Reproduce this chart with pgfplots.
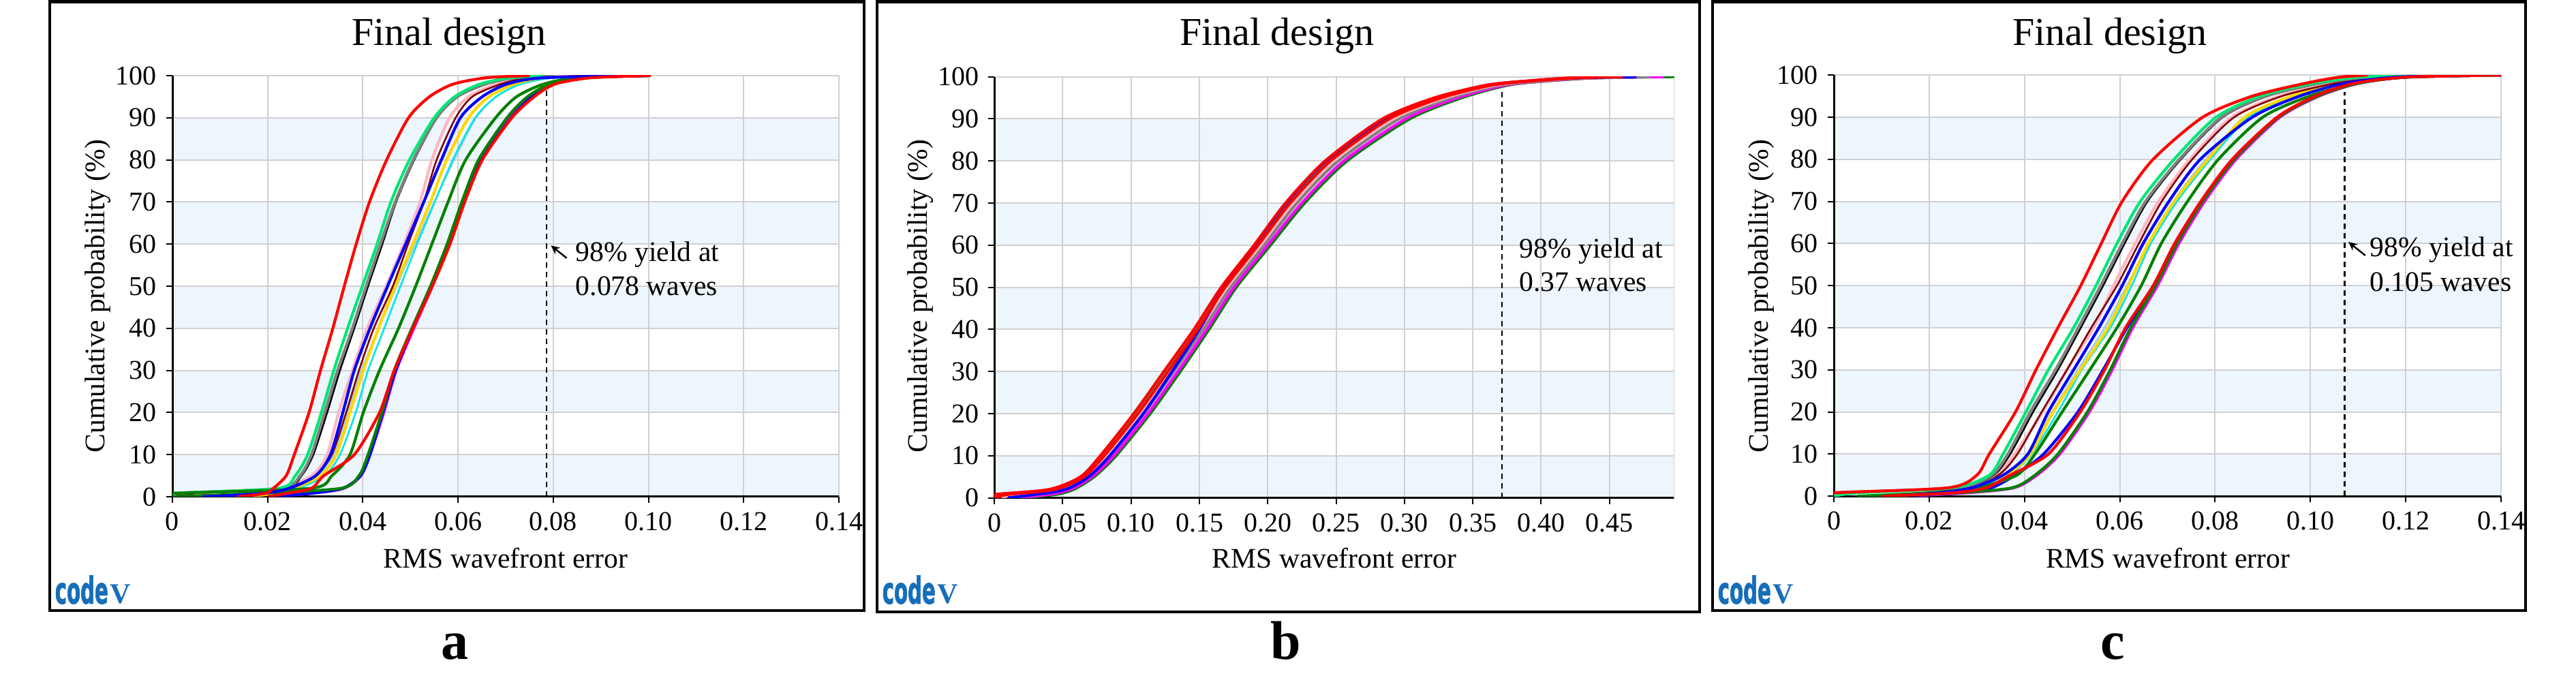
\documentclass[border=0pt]{standalone}
\usepackage{fontspec}
\setmainfont{Liberation Serif}
\newfontfamily\logofont{DejaVu Sans}[FakeBold=2]
\usepackage{graphicx}
\usepackage{pgfplots}
\pgfplotsset{compat=1.18}
\usepackage{pgfplotstable}
\usetikzlibrary{arrows.meta}

\definecolor{band}{RGB}{238,246,253}
\definecolor{gridgray}{RGB}{208,208,212}
\definecolor{cred}{RGB}{255,0,0}
\definecolor{csgreen}{RGB}{0,230,118}
\definecolor{cgray}{RGB}{128,128,128}
\definecolor{cpink}{RGB}{255,182,193}
\definecolor{cmaroon}{RGB}{128,0,0}
\definecolor{cblue}{RGB}{0,0,255}
\definecolor{clblue}{RGB}{160,205,235}
\definecolor{cyellow}{RGB}{255,215,0}
\definecolor{ccyan}{RGB}{0,230,230}
\definecolor{cgreen}{RGB}{0,128,0}
\definecolor{cmagenta}{RGB}{255,0,255}
\definecolor{logoblue}{RGB}{22,110,185}

% panel a: x (RMS wavefront error) of each curve at cumulative probability p
\pgfplotstableread{
p     red1   sgreen gray   black  pink   maroon blue   lblue  yellow cyan   green1 green2 magenta red2   blue2
0     0.0136 0.0    0.0    0.0    0.0    0.0    0.0063 0.0100 0.0150 0.0150 0.0    0.0    0.0200 0.0200 0.0200
0.8   0.0195 0.0    0.0    0.0    0.0    0.0050 0.0190 0.0210 0.0220 0.0225 0.0    0.0180 0.0290 0.0240 0.0290
2     0.0212 0.0222 0.0228 0.0232 0.0220 0.0240 0.0245 0.0260 0.0255 0.0265 0.0290 0.0354 0.0360 0.0292 0.0358
5     0.0239 0.0258 0.0268 0.0271 0.0292 0.0300 0.0301 0.0305 0.0311 0.0320 0.0335 0.0392 0.0396 0.0318 0.0395
10    0.0256 0.0284 0.0292 0.0296 0.0325 0.0335 0.0332 0.0339 0.0344 0.0352 0.0373 0.0411 0.0415 0.0382 0.0415
20    0.0287 0.0313 0.0320 0.0325 0.0349 0.0365 0.0358 0.0368 0.0373 0.0385 0.0401 0.0440 0.0444 0.0435 0.0442
30    0.0311 0.0339 0.0347 0.0352 0.0378 0.0392 0.0382 0.0397 0.0401 0.0411 0.0435 0.0466 0.0470 0.0466 0.0469
40    0.0337 0.0368 0.0378 0.0382 0.0409 0.0423 0.0415 0.0433 0.0433 0.0445 0.0475 0.0503 0.0507 0.0505 0.0505
50    0.0361 0.0399 0.0407 0.0411 0.0449 0.0463 0.0452 0.0471 0.0468 0.0479 0.0511 0.0542 0.0546 0.0546 0.0545
60    0.0386 0.0430 0.0437 0.0441 0.0486 0.0495 0.0490 0.0510 0.0505 0.0514 0.0545 0.0577 0.0581 0.0583 0.0582
70    0.0414 0.0459 0.0468 0.0470 0.0520 0.0528 0.0528 0.0550 0.0542 0.0551 0.0579 0.0608 0.0612 0.0614 0.0613
80    0.0450 0.0498 0.0506 0.0508 0.0545 0.0555 0.0565 0.0592 0.0576 0.0589 0.0616 0.0643 0.0647 0.0651 0.0649
90    0.0496 0.0550 0.0555 0.0556 0.0582 0.0595 0.0605 0.0638 0.0622 0.0636 0.0679 0.0703 0.0706 0.0713 0.0712
95    0.0540 0.0593 0.0598 0.0600 0.0622 0.0630 0.0651 0.0680 0.0665 0.0680 0.0723 0.0746 0.0750 0.0760 0.0755
98    0.0590 0.0646 0.0656 0.0660 0.0680 0.0690 0.0703 0.0730 0.0718 0.0732 0.0780 0.0794 0.0798 0.0804 0.0800
99.5  0.0660 0.0710 0.0720 0.0720 0.0740 0.0750 0.0780 0.0800 0.0780 0.0800 0.0850 0.0870 0.0870 0.0880 0.0870
100   0.0750 0.0780 0.0800 0.0800 0.0850 0.0880 0.1000 0.0900 0.0900 0.0900 0.0980 0.1000 0.1000 0.1005 0.1000
}\tabA

% panel b
\pgfplotstableread{
p     red1   sgreen red2   pink   gray   blue   yellow magenta green
0     0.0    0.0    0.0    0.005  0.010  0.010  0.010  0.015  0.020
0.8   0.0    0.005  0.010  0.015  0.025  0.030  0.030  0.040  0.045
2     0.040  0.043  0.0445 0.047  0.051  0.052  0.050  0.0555 0.058
5     0.063  0.0645 0.0655 0.067  0.069  0.069  0.0685 0.0715 0.073
10    0.0775 0.0792 0.0804 0.0821 0.0844 0.0844 0.0838 0.0873 0.089
20    0.102  0.1038 0.105  0.1068 0.1092 0.109  0.1086 0.1122 0.114
30    0.124  0.1258 0.127  0.1288 0.1312 0.130  0.1306 0.1342 0.136
40    0.146  0.1477 0.1488 0.1504 0.1526 0.150  0.1515 0.1553 0.157
50    0.166  0.1677 0.1688 0.1704 0.1726 0.168  0.1715 0.1753 0.177
60    0.190  0.1918 0.193  0.1948 0.1972 0.1905 0.196  0.200  0.202
70    0.213  0.2151 0.2165 0.2186 0.2214 0.2135 0.220  0.2249 0.227
80    0.242  0.2444 0.246  0.2484 0.2516 0.2425 0.250  0.2556 0.258
90    0.284  0.287  0.289  0.292  0.296  0.285  0.294  0.301  0.304
95    0.322  0.325  0.327  0.330  0.334  0.323  0.332  0.339  0.342
98    0.360  0.3624 0.364  0.3664 0.3696 0.3608 0.368  0.3736 0.376
99    0.390  0.3923 0.394  0.396  0.399  0.391  0.3975 0.4028 0.405
99.7  0.420  0.423  0.425  0.428  0.432  0.425  0.430  0.437  0.440
100   0.452  0.460  0.460  0.470  0.480  0.470  0.470  0.490  0.4975
}\tabB

% panel c
\pgfplotstableread{
p     red1   sgreen gray   black  pink   maroon blue   lblue  yellow cyan   green1 green2 magenta red2   blue2
0     0.0    0.0    0.0    0.0    0.0    0.0    0.0120 0.0100 0.0100 0.0100 0.0050 0.0100 0.0150 0.0100 0.0120
0.8   0.0    0.0050 0.0    0.0    0.0    0.0    0.0220 0.0210 0.0200 0.0210 0.0200 0.0260 0.0280 0.0250 0.0260
2     0.0240 0.0250 0.0260 0.0265 0.0270 0.0275 0.0290 0.0285 0.0280 0.0285 0.0300 0.0374 0.0378 0.0320 0.0330
5     0.0300 0.0326 0.0331 0.0335 0.0340 0.0345 0.0355 0.0360 0.0360 0.0365 0.0384 0.0422 0.0426 0.0370 0.0380
10    0.0326 0.0355 0.0365 0.0370 0.0379 0.0385 0.0407 0.0405 0.0412 0.0415 0.0422 0.0470 0.0474 0.0450 0.0440
20    0.0381 0.0403 0.0412 0.0418 0.0438 0.0436 0.0450 0.0458 0.0460 0.0470 0.0479 0.0532 0.0536 0.0517 0.0512
30    0.0424 0.0450 0.0465 0.0470 0.0489 0.0489 0.0503 0.0512 0.0517 0.0520 0.0537 0.0580 0.0584 0.0568 0.0565
40    0.0470 0.0503 0.0513 0.0518 0.0545 0.0540 0.0556 0.0568 0.0575 0.0580 0.0594 0.0623 0.0627 0.0612 0.0615
50    0.0518 0.0550 0.0560 0.0565 0.0587 0.0594 0.0605 0.0615 0.0618 0.0625 0.0645 0.0675 0.0679 0.0670 0.0672
60    0.0561 0.0594 0.0605 0.0610 0.0632 0.0640 0.0649 0.0660 0.0660 0.0665 0.0687 0.0720 0.0724 0.0715 0.0718
70    0.0605 0.0643 0.0654 0.0658 0.0681 0.0688 0.0703 0.0712 0.0714 0.0720 0.0742 0.0774 0.0778 0.0770 0.0772
80    0.0670 0.0714 0.0725 0.0728 0.0747 0.0752 0.0769 0.0780 0.0785 0.0790 0.0807 0.0840 0.0844 0.0836 0.0838
90    0.0774 0.0802 0.0813 0.0816 0.0834 0.0840 0.0878 0.0866 0.0862 0.0870 0.0900 0.0933 0.0936 0.0930 0.0931
95    0.0878 0.0895 0.0906 0.0910 0.0933 0.0940 0.0977 0.0965 0.0960 0.0965 0.0998 0.1015 0.1018 0.1010 0.1012
98    0.0987 0.1004 0.1015 0.1020 0.1042 0.1050 0.1070 0.1065 0.1060 0.1065 0.1097 0.1097 0.1100 0.1090 0.1092
99.5  0.1060 0.1100 0.1120 0.1120 0.1140 0.1150 0.1180 0.1170 0.1160 0.1170 0.1200 0.1200 0.1200 0.1200 0.1200
100   0.1120 0.1200 0.1250 0.1250 0.1300 0.1300 0.1350 0.1300 0.1300 0.1300 0.1400 0.1400 0.1400 0.1400 0.1400
}\tabC

\pgfplotsset{
  panel/.style={
    scale only axis, anchor=south west, height=154.5pt,
    ymin=0, ymax=100, ytick={0,10,20,30,40,50,60,70,80,90,100},
    yticklabels={0,10,20,30,40,50,60,70,80,90,100},
    axis lines*=left,
    axis line style={black, line width=0.75pt},
    tick align=outside, major tick length=2.25pt,
    tick style={black, line width=0.5pt},
    xmajorgrids, ymajorgrids,
    grid style={gridgray, line width=0.5pt},
    tick label style={font=\fontsize{10}{12}\selectfont},
    every axis plot/.append style={line width=1.05pt, line join=round, smooth, tension=0.45},
  },
  thin/.style={line width=0.65pt},
}

\newcommand{\curvesAC}[1]{%
  \addplot[clblue, thin] table[x=lblue, y=p]{#1};
  \addplot[ccyan, thin] table[x=cyan, y=p]{#1};
  \addplot[cyellow] table[x=yellow, y=p]{#1};
  \addplot[cpink] table[x=pink, y=p]{#1};
  \addplot[cmaroon, thin] table[x=maroon, y=p]{#1};
  \addplot[black, thin] table[x=black, y=p]{#1};
  \addplot[cgray] table[x=gray, y=p]{#1};
  \addplot[csgreen] table[x=sgreen, y=p]{#1};
  \addplot[cmagenta] table[x=magenta, y=p]{#1};
  \addplot[cblue] table[x=blue2, y=p]{#1};
  \addplot[cgreen] table[x=green2, y=p]{#1};
  \addplot[cgreen] table[x=green1, y=p]{#1};
  \addplot[cblue] table[x=blue, y=p]{#1};
  \addplot[cred] table[x=red2, y=p]{#1};
  \addplot[cred] table[x=red1, y=p]{#1};
}

\newcommand{\logo}{{\color{logoblue}\scalebox{0.54}[1]{\fontsize{13.5}{13.5}\logofont\bfseries code}\hspace{0.8pt}{\fontsize{10.5}{10.5}\selectfont\bfseries V}}}

\begin{document}
\begin{tikzpicture}
\useasboundingbox (0,0) rectangle (945pt,248.75pt);
\fill[white] (0,0) rectangle (945pt,248.75pt);

% background bands
\foreach \k in {0,2,4,6,8} {
  \fill[band] (63.25pt,{66.5pt+\k*15.45pt}) rectangle (307.75pt,{66.5pt+(\k+1)*15.45pt});
  \fill[band] (364.8pt,{66.1pt+\k*15.45pt}) rectangle (614.2pt,{66.1pt+(\k+1)*15.45pt});
  \fill[band] (672.75pt,{66.7pt+\k*15.45pt}) rectangle (917.5pt,{66.7pt+(\k+1)*15.45pt});
}

% ---------- panel a ----------
\begin{axis}[panel, at={(63.25pt,66.5pt)}, width=244.5pt,
  xmin=0, xmax=0.14, xtick={0,0.02,0.04,0.06,0.08,0.10,0.12,0.14},
  xticklabels={0,0.02,0.04,0.06,0.08,0.10,0.12,0.14}]
  \curvesAC{\tabA}
  \draw[black, line width=0.6pt, dash pattern=on 2pt off 1.5pt] (axis cs:0.0786,0) -- (axis cs:0.0786,96.5);
\end{axis}

% ---------- panel b ----------
\begin{axis}[panel, at={(364.8pt,66.1pt)}, width=249.4pt,
  xmin=0, xmax=0.4975, xtick={0,0.05,0.1,0.15,0.2,0.25,0.3,0.35,0.4,0.45},
  xticklabels={0,0.05,0.10,0.15,0.20,0.25,0.30,0.35,0.40,0.45}]
  \draw[gridgray, line width=0.5pt] (axis cs:0.4975,0) -- (axis cs:0.4975,100);
  \addplot[cgreen] table[x=green, y=p]{\tabB};
  \addplot[cmagenta] table[x=magenta, y=p]{\tabB};
  \addplot[cyellow] table[x=yellow, y=p]{\tabB};
  \addplot[cgray] table[x=gray, y=p]{\tabB};
  \addplot[cpink] table[x=pink, y=p]{\tabB};
  \addplot[csgreen] table[x=sgreen, y=p]{\tabB};
  \addplot[cblue] table[x=blue, y=p]{\tabB};
  \addplot[cred] table[x=red2, y=p]{\tabB};
  \addplot[cred] table[x=red1, y=p]{\tabB};
  \draw[black, line width=0.6pt, dash pattern=on 2pt off 1.5pt] (axis cs:0.3715,0) -- (axis cs:0.3715,96.8);
\end{axis}

% ---------- panel c ----------
\begin{axis}[panel, at={(672.75pt,66.7pt)}, width=244.75pt,
  xmin=0, xmax=0.14, xtick={0,0.02,0.04,0.06,0.08,0.10,0.12,0.14},
  xticklabels={0,0.02,0.04,0.06,0.08,0.10,0.12,0.14}]
  \curvesAC{\tabC}
  \draw[black, line width=0.6pt, dash pattern=on 2pt off 1.5pt] (axis cs:0.1072,0) -- (axis cs:0.1072,96);
\end{axis}

% frames
\draw[line width=1.2pt] (18.25pt,24.75pt) rectangle (317pt,248.15pt);
\draw[line width=1.2pt] (321.75pt,24.25pt) rectangle (623.5pt,248.15pt);
\draw[line width=1.2pt] (628.25pt,24.75pt) rectangle (926.5pt,248.15pt);

% titles
\foreach \x in {164.75pt,468.4pt,774pt}
  \node[anchor=base, inner sep=0, font=\fontsize{14.5}{16}\selectfont] at (\x,232.1pt) {Final design};
% x labels
\foreach \x in {185.5pt,489.5pt,795.3pt}
  \node[anchor=base, inner sep=0, font=\fontsize{10.4}{12}\selectfont] at (\x,40.3pt) {RMS wavefront error};
% y labels
\foreach \x in {38.25pt,340pt,648.5pt}
  \node[anchor=base, rotate=90, inner sep=0, font=\fontsize{10.4}{12}\selectfont] at (\x,140.1pt) {Cumulative probability (\%)};

% annotations
\begin{scope}[every node/.style={anchor=base west, inner sep=0, font=\fontsize{10.4}{12}\selectfont}]
  \node at (211pt,152.9pt) {98\% yield at};
  \node at (211pt,140.25pt) {0.078 waves};
  \node at (557.2pt,154.2pt) {98\% yield at};
  \node at (557.2pt,141.95pt) {0.37 waves};
  \node at (869.15pt,154.5pt) {98\% yield at};
  \node at (869.15pt,141.95pt) {0.105 waves};
\end{scope}
\draw[-{Stealth[length=3.2pt,width=3pt]}, line width=0.6pt] (207.9pt,154.05pt) -- (202.1pt,158.65pt);
\draw[-{Stealth[length=3.2pt,width=3pt]}, line width=0.6pt] (867.7pt,155pt) -- (861.5pt,160pt);

% logos
\node[anchor=base west, inner sep=0] at (20pt,27.3pt) {\logo};
\node[anchor=base west, inner sep=0] at (323.5pt,27.3pt) {\logo};
\node[anchor=base west, inner sep=0] at (630pt,27.3pt) {\logo};

% panel letters
\foreach \x/\l in {166.9pt/a,471.75pt/b,775pt/c}
  \node[anchor=base, inner sep=0, font=\fontsize{20}{22}\selectfont\bfseries] at (\x,6.85pt) {\l};
\end{tikzpicture}
\end{document}
